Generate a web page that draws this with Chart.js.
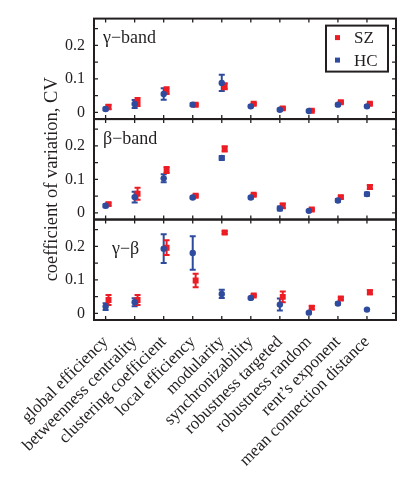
<!DOCTYPE html>
<html>
<head>
<meta charset="utf-8">
<script src="https://cdn.jsdelivr.net/npm/chart.js@4.4.0/dist/chart.umd.min.js"></script>
<style>
  body { margin: 0; background: #fff; }
  #wrap { width: 414px; height: 490px; }
</style>
</head>
<body>
<div id="wrap"><canvas id="cvChart" width="414" height="490"></canvas></div>
<script>
const categories = ['global efficiency', 'betweenness centrality', 'clustering coefficient',
  'local efficiency', 'modularity', 'synchronizability', 'robustness targeted',
  'robustness random', 'rent\u2019s exponent', 'mean connection distance'];
const yTickValues = [0, 0.1, 0.2];
const yMinorTicks = [0, 0.05, 0.1, 0.15, 0.2, 0.25];
const panelNames = ['\u03b3\u2212band', '\u03b2\u2212band', '\u03b3\u2212\u03b2'];
const seriesNames = ['SZ', 'HC'];

// gamma band
const gammaSZ    = [0.016, 0.031, 0.065, 0.023, 0.078, 0.026, 0.012, 0.005, 0.030, 0.026];
const gammaSZErr = [0.007, 0.012, 0.010, 0.003, 0.009, 0.003, 0.003, 0.002, 0.003, 0.003];
const gammaHC    = [0.010, 0.025, 0.055, 0.023, 0.088, 0.018, 0.008, 0.004, 0.023, 0.018];
const gammaHCErr = [0.004, 0.012, 0.017, 0.004, 0.024, 0.003, 0.003, 0.002, 0.003, 0.003];
// beta band
const betaSZ    = [0.026, 0.057, 0.128, 0.051, 0.191, 0.054, 0.021, 0.010, 0.047, 0.077];
const betaSZErr = [0.004, 0.018, 0.009, 0.003, 0.008, 0.003, 0.007, 0.003, 0.004, 0.006];
const betaHC    = [0.021, 0.047, 0.103, 0.046, 0.164, 0.046, 0.013, 0.006, 0.037, 0.056];
const betaHCErr = [0.004, 0.016, 0.012, 0.003, 0.006, 0.003, 0.006, 0.002, 0.004, 0.005];
// gamma-beta
const gbSZ    = [0.040, 0.040, 0.196, 0.098, 0.241, 0.053, 0.049, 0.017, 0.044, 0.063];
const gbSZErr = [0.015, 0.015, 0.022, 0.020, 0.004, 0.003, 0.016, 0.005, 0.004, 0.006];
const gbHC    = [0.020, 0.033, 0.193, 0.180, 0.058, 0.046, 0.026, 0.002, 0.029, 0.011];
const gbHCErr = [0.010, 0.012, 0.043, 0.050, 0.012, 0.003, 0.018, 0.002, 0.003, 0.002];

const RED = '#ec1c24';
const BLUE = '#2e4b9e';
const INK = '#231f20';
const FONT = '"Liberation Serif", "Times New Roman", serif';

const panels = [
  { axis: 'yTop', name: panelNames[0], sz: gammaSZ, szErr: gammaSZErr, hc: gammaHC, hcErr: gammaHCErr },
  { axis: 'yMid', name: panelNames[1], sz: betaSZ, szErr: betaSZErr, hc: betaHC, hcErr: betaHCErr },
  { axis: 'yBot', name: panelNames[2], sz: gbSZ, szErr: gbSZErr, hc: gbHC, hcErr: gbHCErr }
];

function makeSet(label, vals, errs, axis, color, style, shift) {
  return {
    label: label,
    data: vals.map((v, i) => ({ x: i + shift, y: v })),
    errors: errs,
    yAxisID: axis,
    xAxisID: 'x',
    borderColor: color,
    backgroundColor: color,
    pointStyle: style,
    pointRadius: style === 'rect' ? 4.2 : 3.2,
    pointBorderWidth: 0,
    showLine: false
  };
}

const datasets = [];
panels.forEach(p => {
  datasets.push(makeSet(seriesNames[1], p.hc, p.hcErr, p.axis, BLUE, 'circle', 0));
  datasets.push(makeSet(seriesNames[0], p.sz, p.szErr, p.axis, RED, 'rect', 0.1));
});

function yAxis(weight) {
  return {
    type: 'linear', position: 'left', stack: 'panels', stackWeight: 1, weight: weight,
    min: -0.02, max: 0.28,
    grid: { display: false, drawTicks: false }, border: { display: false },
    afterBuildTicks: s => { s.ticks = yTickValues.map(v => ({ value: v })); },
    afterFit: s => { s.width = 94; },
    ticks: { color: INK, padding: 9, font: { family: FONT, size: 16 },
      callback: v => v === 0 ? '0' : v.toFixed(1) }
  };
}

const errorBars = {
  id: 'errorBars',
  beforeDatasetsDraw(chart) {
    const ctx = chart.ctx;
    chart.data.datasets.forEach((ds, i) => {
      const meta = chart.getDatasetMeta(i);
      const ys = chart.scales[ds.yAxisID];
      ctx.save();
      ctx.strokeStyle = ds.borderColor;
      ctx.lineWidth = 2;
      meta.data.forEach((pt, j) => {
        const v = ds.data[j].y, e = ds.errors[j];
        const t = ys.getPixelForValue(v + e), b = ys.getPixelForValue(v - e);
        ctx.beginPath();
        ctx.moveTo(pt.x, t); ctx.lineTo(pt.x, b);
        ctx.moveTo(pt.x - 3, t); ctx.lineTo(pt.x + 3, t);
        ctx.moveTo(pt.x - 3, b); ctx.lineTo(pt.x + 3, b);
        ctx.stroke();
      });
      ctx.restore();
    });
  }
};

const frame = {
  id: 'frame',
  afterDraw(chart) {
    const ctx = chart.ctx;
    const area = chart.chartArea;
    const xs = chart.scales.x;
    ctx.save();
    ctx.strokeStyle = INK;
    ctx.fillStyle = INK;
    panels.forEach((p, k) => {
      const ys = chart.scales[p.axis];
      ctx.lineWidth = 1.3;
      ctx.beginPath();
      yMinorTicks.forEach(v => {
        const y = ys.getPixelForValue(v);
        ctx.moveTo(area.left, y); ctx.lineTo(area.left + 4, y);
        ctx.moveTo(area.right, y); ctx.lineTo(area.right - 4, y);
      });
      categories.forEach((c, i) => {
        const x = xs.getPixelForValue(i);
        ctx.moveTo(x, ys.top); ctx.lineTo(x, ys.top + 4);
        ctx.moveTo(x, ys.bottom); ctx.lineTo(x, ys.bottom - 4);
      });
      ctx.stroke();
      ctx.lineWidth = 2;
      ctx.strokeRect(area.left, ys.top, area.right - area.left, ys.bottom - ys.top);
      ctx.font = '18px ' + FONT;
      ctx.textBaseline = 'middle';
      ctx.textAlign = 'left';
      if (k === 2) ctx.fillText(p.name, area.left + 18, ys.top + 30);
      else ctx.fillText(p.name, area.left + 9, ys.top + 20);
    });

    // legend box in the top panel
    const top = chart.scales[panels[0].axis];
    const lx = area.right - 70, ly = top.top + 7, lw = 62, lh = 46;
    ctx.fillStyle = '#fff';
    ctx.fillRect(lx, ly, lw, lh);
    ctx.lineWidth = 2;
    ctx.strokeRect(lx, ly, lw, lh);
    const entries = [[seriesNames[0], RED], [seriesNames[1], BLUE]];
    entries.forEach((en, i) => {
      const cy = ly + 12 + i * 22.5;
      ctx.fillStyle = en[1];
      ctx.fillRect(lx + 9, cy - 2.5, 5, 5);
      ctx.fillStyle = INK;
      ctx.font = '17px ' + FONT;
      ctx.textAlign = 'left';
      ctx.textBaseline = 'middle';
      ctx.fillText(en[0], lx + 28, cy + 1);
    });

    // y title
    ctx.save();
    ctx.translate(52, (area.top + area.bottom) / 2 + 10);
    ctx.rotate(-Math.PI / 2);
    ctx.textAlign = 'center';
    ctx.textBaseline = 'middle';
    ctx.fillStyle = INK;
    ctx.font = '18.5px ' + FONT;
    ctx.fillText('coefficient of variation, CV', 0, 0);
    ctx.restore();
    ctx.restore();
  }
};

new Chart(document.getElementById('cvChart'), {
  type: 'scatter',
  data: { datasets: datasets },
  options: {
    responsive: false,
    animation: false,
    devicePixelRatio: 1,
    layout: { padding: { top: 15, right: 18, left: 0, bottom: 0 } },
    plugins: { legend: { display: false }, tooltip: { enabled: false } },
    scales: {
      x: {
        type: 'linear', position: 'bottom', min: -0.4, max: 10,
        grid: { display: false, drawTicks: false }, border: { display: false },
        afterBuildTicks: s => { s.ticks = categories.map((c, i) => ({ value: i })); },
        afterFit: s => { s.height = 170; },
        ticks: { autoSkip: false, minRotation: 45, maxRotation: 45, padding: 12, color: INK,
          font: { family: FONT, size: 17 }, callback: v => categories[v] }
      },
      yTop: yAxis(3),
      yMid: yAxis(2),
      yBot: yAxis(1)
    }
  },
  plugins: [errorBars, frame]
});
</script>
</body>
</html>
